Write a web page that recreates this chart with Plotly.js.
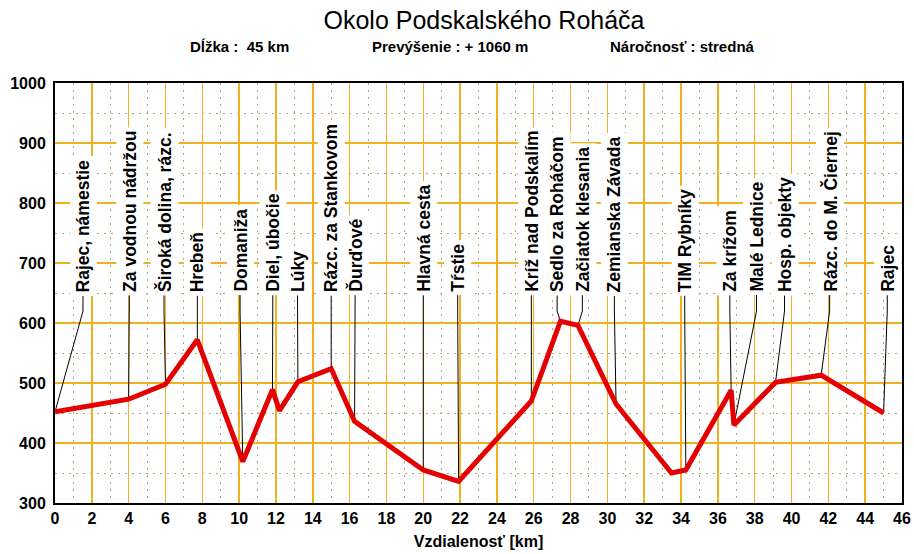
<!DOCTYPE html>
<html>
<head>
<meta charset="utf-8">
<script src="https://cdn.plot.ly/plotly-3.0.1.min.js"></script>
<style>html,body{margin:0;padding:0;background:#fff;}#chart{width:914px;height:554px;}</style>
</head>
<body>
<div id="chart"></div>
<script>
// Elevation profile (km, m)
const profileKm   = [0, 4.0, 6.0, 7.73, 10.2, 11.81, 12.19, 13.19, 15.0, 16.27, 20.0, 21.92, 25.87, 27.45, 28.4, 30.47, 33.48, 34.26, 36.72, 36.87, 39.13, 41.61, 45.0];
const profileElev = [452, 473, 498, 572, 369, 489, 454, 502, 524, 436, 355, 336, 470, 603, 596, 465, 350, 355, 488, 430, 501, 513, 450];

// Waypoint labels
const placeNames = ["Rajec, námestie", "Za vodnou nádržou", "Široká dolina, rázc.", "Hrebeň", "Domaniža",
  "Diel, úbočie", "Lúky", "Rázc. za Stankovom", "Ďurďové", "Hlavná cesta", "Tŕstie",
  "Kríž nad Podskalím", "Sedlo za Roháčom", "Začiatok klesania", "Zemianska Závada", "TIM Rybníky",
  "Za krížom", "Malé Lednice", "Hosp. objekty", "Rázc. do M. Čiernej", "Rajec"];
const placeKm   = [0, 4.0, 6.0, 7.73, 10.2, 11.81, 13.19, 15.0, 16.27, 20.0, 21.92, 25.87, 27.45, 28.4, 30.47, 34.26, 36.72, 36.87, 39.13, 41.61, 45.0];
const placeElev = [452, 473, 498, 572, 369, 489, 502, 524, 436, 355, 336, 470, 603, 596, 465, 355, 488, 430, 501, 513, 450];
const labelKm   = [1.52, 4.04, 5.92, 7.73, 10.05, 11.83, 13.17, 15.0, 16.3, 20.0, 21.87, 25.87, 27.27, 28.64, 30.38, 34.2, 36.65, 38.1, 39.62, 42.07, 45.2];

const titleText = "Okolo Podskalského Roháča";
const infoTexts = ["Dĺžka :  45 km", "Prevýšenie : + 1060 m", "Náročnosť : stredná"];
const xTitle = "Vzdialenosť [km]";

const LABEL_BASE = 645, BEND = 620;
const lx = [], ly = [];
for (let i = 0; i < placeNames.length; i++) {
  lx.push(labelKm[i], labelKm[i], placeKm[i], null);
  ly.push(LABEL_BASE + 5, BEND, placeElev[i], null);
}

const FONT = "Liberation Sans, Arial, sans-serif";
const traces = [
  {x: lx, y: ly, mode: 'lines', line: {color: '#000', width: 1}, hoverinfo: 'skip', showlegend: false},
  {x: profileKm, y: profileElev, mode: 'lines', line: {color: '#e40000', width: 5}, showlegend: false}
];

const annotations = placeNames.map((t, i) => ({
  text: t, x: labelKm[i], y: LABEL_BASE, xref: 'x', yref: 'y',
  textangle: -90, xanchor: 'center', yanchor: 'bottom', showarrow: false,
  bgcolor: '#fff', borderpad: 3,
  font: {family: FONT, size: 17.5, color: '#000', weight: 'bold'}
}));
const PW = 914 - 55 - 12, PH = 554 - 83 - 51;
const infoX = [239, 450, 682];
infoTexts.forEach((t, i) => annotations.push({
  text: t, x: (infoX[i] - 55) / PW, y: (554 - 51 - 46) / PH, xref: 'paper', yref: 'paper',
  xanchor: 'center', yanchor: 'middle', showarrow: false,
  font: {family: FONT, size: 15, color: '#000', weight: 'bold'}
}));

const tickFont = {family: FONT, size: 16, color: '#000', weight: 'bold'};
const GRID = '#f0b020', MINOR = '#b5a670';

const layout = {
  width: 914, height: 554,
  margin: {l: 55, r: 12, t: 83, b: 51},
  paper_bgcolor: '#fff', plot_bgcolor: '#fff',
  title: {text: titleText, x: 484 / 914, xanchor: 'center', y: 1 - 20 / 554, yanchor: 'middle',
          font: {family: FONT, size: 25, color: '#000'}},
  xaxis: {
    range: [0, 46], dtick: 2, tick0: 0,
    showgrid: true, gridcolor: GRID, gridwidth: 1.5,
    showline: true, linecolor: '#000', linewidth: 2, mirror: true,
    zeroline: false, ticks: '', tickfont: tickFont,
    minor: {dtick: 1, showgrid: true, gridcolor: MINOR, griddash: '2px,5px', gridwidth: 1},
    title: {text: xTitle, standoff: 10, font: tickFont}
  },
  yaxis: {
    range: [300, 1000], dtick: 100,
    showgrid: true, gridcolor: GRID, gridwidth: 1.5,
    showline: true, linecolor: '#000', linewidth: 2, mirror: true,
    zeroline: false, ticks: '', tickfont: tickFont,
    minor: {dtick: 50, showgrid: true, gridcolor: MINOR, griddash: '2px,5px', gridwidth: 1},
    ticklabelstandoff: 4
  },
  annotations: annotations
};

Plotly.newPlot('chart', traces, layout, {displayModeBar: false, staticPlot: true});
</script>
</body>
</html>
